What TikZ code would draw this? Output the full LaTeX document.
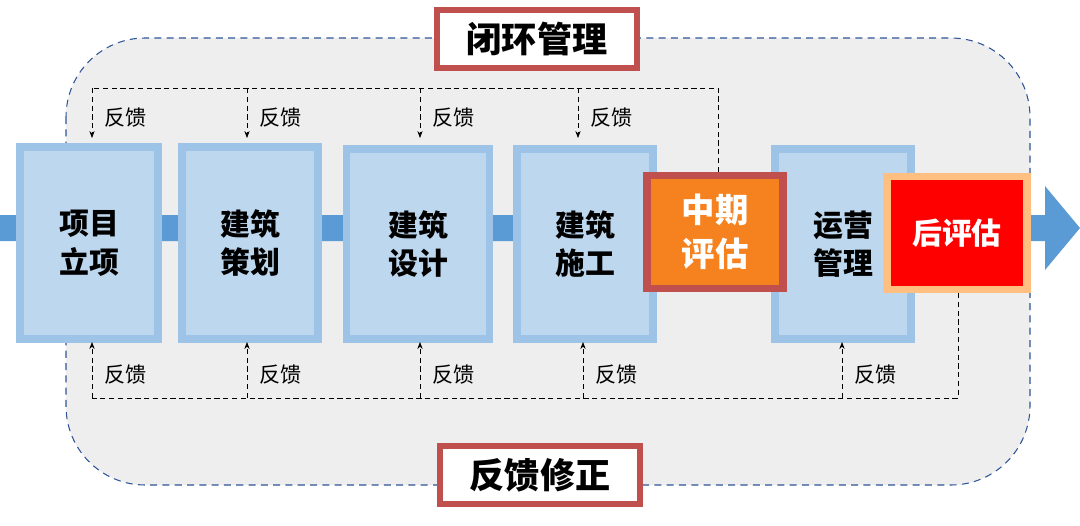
\documentclass[tikz,border=0pt]{standalone}
\usepackage{fontspec}
\setmainfont{Noto Sans CJK SC}
\usetikzlibrary{arrows.meta}
\definecolor{boxfill}{HTML}{BDD7EE}
\definecolor{boxline}{HTML}{9DC3E6}
\definecolor{band}{HTML}{5B9BD5}
\definecolor{frame}{HTML}{C0504D}
\definecolor{frameline}{HTML}{2F5597}
\definecolor{midfill}{HTML}{F5821F}
\begin{document}
\begin{tikzpicture}[x=0.02cm,y=-0.02cm]
    \tikzset{stage/.style={draw=boxline,line width=4pt,fill=boxfill,inner sep=0pt,align=center,font=\bfseries\fontsize{17}{22}\selectfont},
      fb/.style={densely dashed,thin},
      fbarrow/.style={fb,-{Stealth[length=4pt]}},
      fbtext/.style={font=\fontsize{12}{14}\selectfont,anchor=west},
      tag/.style={draw=frame,line width=3.5pt,fill=white,minimum width=200*0.02cm,minimum height=58*0.02cm,font=\bfseries\fontsize{20}{24}\selectfont}}
    \useasboundingbox (0,0) rectangle (1080,525);
    % outer frame
    \draw [frameline,dash pattern=on 4pt off 3pt,semithick,fill=gray!13,rounded corners=45] (66,38) rectangle (1030,485);
    % main band
    \fill [band] (0,215) -- (1045,215) -- (1045,186) -- (1080,228) -- (1045,270) -- (1045,241) -- (0,241) -- cycle;
    % stages
    \node [stage,minimum width=138*0.02cm,minimum height=192*0.02cm] (s1) at (89,243) {项目\\立项};
    \node [stage,minimum width=136*0.02cm,minimum height=192*0.02cm] (s2) at (250,243) {建筑\\策划};
    \node [stage,minimum width=143*0.02cm,minimum height=190*0.02cm] (s3) at (418,244) {建筑\\设计};
    \node [stage,minimum width=136*0.02cm,minimum height=190*0.02cm] (s4) at (585,244) {建筑\\施工};
    \node [stage,minimum width=136*0.02cm,minimum height=190*0.02cm] (s6) at (843,244) {运营\\管理};
    \node [stage,draw=frame,fill=midfill,text=white,minimum width=136*0.02cm,minimum height=113*0.02cm,font=\bfseries\fontsize{19}{25}\selectfont] (s5) at (715,232) {中期\\评估};
    \node [stage,draw=orange!50,fill=red,text=white,minimum width=140*0.02cm,minimum height=113*0.02cm,font=\bfseries\fontsize{17}{22}\selectfont] (s7) at (957,233) {后评估};
    % tags
    \node [tag] (loop) at (537,39) {闭环管理};
    \node [tag] (fix) at (540,475) {反馈修正};
    % top feedback
    \coordinate (t0) at (92,88);
    \coordinate (t5) at (718,88);
    \draw [fb] (s5.north -| t5) -- (t5) -- (t0);
    \foreach \x/\n in {92/1,247/2,420/3,578/4} {
      \draw [fbarrow] (\x,88) -- (\x,138);
      \node [fbtext] (ft\n) at (\x+6,118) {反馈};
    }
    % bottom feedback
    \coordinate (b0) at (92,398);
    \coordinate (b7) at (958,398);
    \draw [fb] (s7.south -| b7) -- (b7) -- (b0);
    \foreach \x/\n in {92/1,247/2,420/3,583/4,842/6} {
      \draw [fbarrow] (\x,398) -- (\x,342);
      \node [fbtext] (fd\n) at (\x+6,375) {反馈};
    }
\end{tikzpicture}
\end{document}
